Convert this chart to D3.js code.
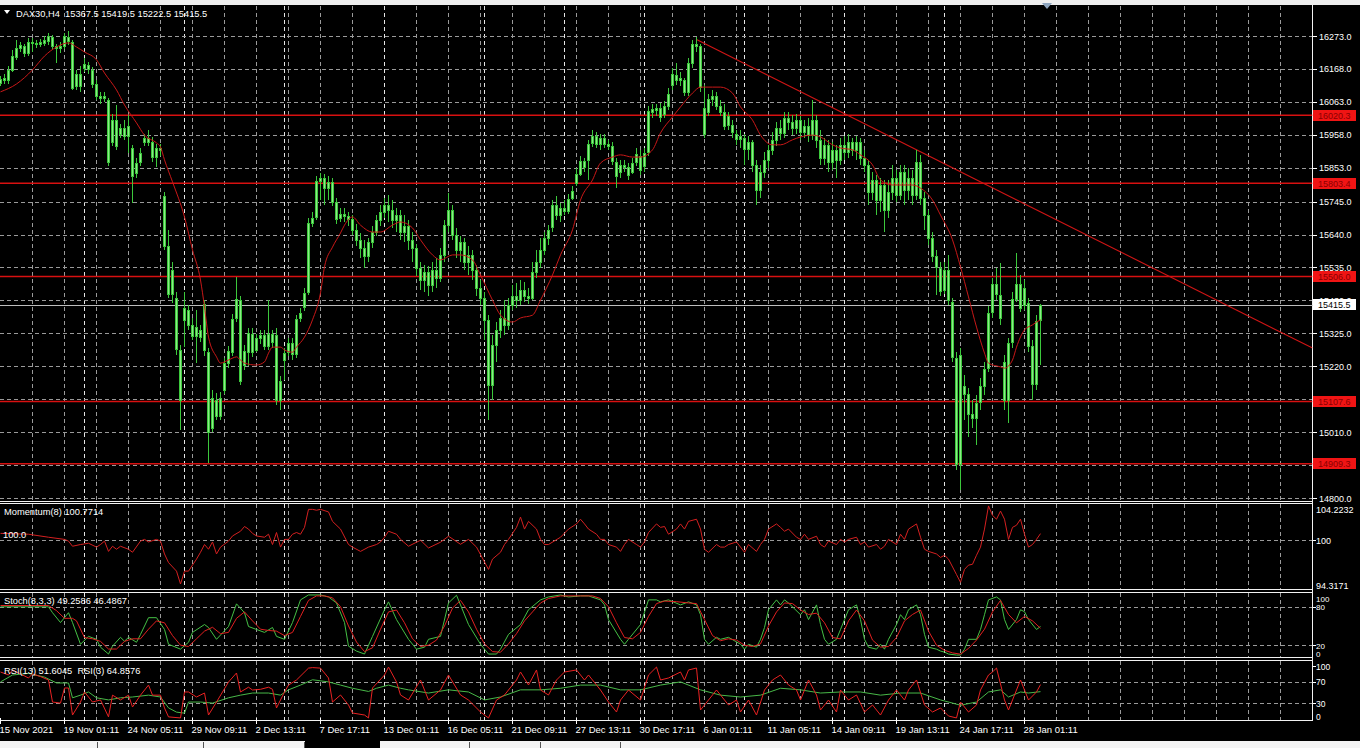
<!DOCTYPE html>
<html><head><meta charset="utf-8">
<script src="https://cdn.jsdelivr.net/npm/d3@7"></script>
<style>
html,body{margin:0;padding:0;background:#000;overflow:hidden}
svg{display:block}
text{font-family:"Liberation Sans",Arial,sans-serif}
</style></head>
<body><svg id="c" width="1360" height="748"></svg>
<script>
// ---------------- DATA ----------------
const symbolTitle = "DAX30,H4  15367.5 15419.5 15222.5 15415.5";
const opens = [16123,16133,16133,16165,16206,16235,16241,16219,16254,16251,
16248,16251,16257,16270,16241,16235,16241,16270,16254,16114,
16152,16171,16181,16165,16120,16082,16075,16069,15935,16005,
15961,15980,15954,15916,15836,15871,15935,15948,15935,15887,
15916,15763,15603,15450,15438,15272,15368,15399,15352,15317,
15336,15272,15265,15023,15112,15061,15144,15230,15265,15374,
15431,15224,15265,15323,15272,15310,15320,15285,15323,15320,
15112,15240,15265,15294,15259,15374,15409,15457,15677,15696,
15811,15820,15788,15808,15744,15693,15706,15699,15690,15655,
15623,15597,15572,15616,15648,15686,15712,15734,15718,15686,
15702,15648,15667,15623,15597,15533,15495,15521,15479,15527,
15501,15575,15670,15718,15639,15591,15616,15552,15575,15527,
15470,15438,15368,15160,15288,15336,15374,15352,15415,15444,
15431,15463,15444,15438,15521,15552,15591,15629,15664,15734,
15702,15725,15715,15757,15804,15833,15875,15878,15932,15954,
15929,15948,15929,15922,15871,15839,15862,15855,15839,15871,
15891,15859,15903,16031,16037,16044,16024,16050,16117,16149,
16133,16133,16095,16187,16248,16241,16044,16031,16072,16082,
16050,16031,15989,15989,15961,15945,15948,15913,15935,15862,
15782,15839,15878,15910,15942,15980,15964,16012,15999,15980,
16005,15967,15986,15957,16005,15942,15884,15926,15871,15910,
15878,15926,15903,15935,15910,15935,15884,15862,15776,15814,
15750,15798,15718,15776,15820,15766,15839,15782,15820,15766,
15871,15757,15702,15629,15572,15533,15463,15527,15425,15246,
14908,15157,15132,15068,15055,15106,15157,15214,15393,15482,
15447,15234,15112,15297,15435,15482,15415,15422,15285,15163,
15367.5];
const highs = [16146,16152,16178,16229,16260,16254,16248,16267,16267,16260,
16264,16273,16283,16276,16248,16254,16283,16289,16260,16165,
16178,16203,16190,16174,16133,16095,16095,16075,16024,16053,
15993,16005,16021,15926,15884,15916,15961,15973,15951,15929,
15929,15776,15655,15552,15457,15288,15457,15415,15374,15399,
15352,15431,15278,15144,15135,15138,15246,15285,15387,15505,
15444,15288,15342,15342,15323,15336,15336,15431,15336,15342,
15189,15278,15310,15310,15383,15406,15470,15693,15712,15827,
15836,15833,15827,15820,15757,15725,15725,15712,15702,15674,
15645,15623,15629,15667,15702,15734,15757,15766,15750,15725,
15718,15702,15686,15648,15610,15552,15543,15540,15552,15565,
15597,15686,15773,15734,15661,15635,15629,15603,15591,15543,
15495,15457,15383,15320,15361,15399,15431,15438,15479,15486,
15495,15489,15470,15552,15591,15629,15648,15670,15750,15763,
15741,15750,15769,15795,15852,15891,15884,15942,15973,15967,
15961,15961,15942,15935,15884,15878,15878,15868,15884,15916,
15910,15916,16050,16056,16056,16060,16066,16107,16171,16187,
16158,16139,16203,16260,16270,16248,16117,16088,16101,16095,
16069,16056,16031,16005,15973,15973,15961,15954,15942,15878,
15862,15903,15926,15967,15999,16005,16031,16031,16021,16024,
16018,16005,16012,16069,16021,15973,15948,15942,15935,15926,
15948,15954,15961,15948,15954,15948,15910,15878,15839,15830,
15820,15814,15814,15862,15846,15862,15862,15852,15846,15910,
15894,15776,15718,15648,15591,15552,15552,15575,15438,15265,
15278,15192,15151,15112,15128,15183,15234,15412,15501,15533,
15549,15256,15310,15457,15581,15511,15495,15438,15304,15383,
15419.5];
const lows = [16114,16120,16120,16158,16197,16222,16206,16209,16222,16235,
16238,16241,16244,16229,16187,16219,16232,16244,16101,16101,
16095,16158,16152,16107,16069,16056,16063,15859,15922,15910,
15948,15942,15900,15741,15820,15859,15922,15922,15871,15855,
15891,15591,15438,15422,15256,15017,15281,15336,15304,15230,
15297,15253,14911,15010,15049,15049,15132,15214,15253,15361,
15160,15208,15221,15250,15265,15291,15272,15272,15278,15096,
15080,15176,15253,15240,15246,15361,15396,15447,15664,15686,
15750,15734,15750,15731,15674,15680,15680,15667,15639,15603,
15565,15533,15552,15597,15635,15667,15693,15680,15661,15648,
15623,15616,15591,15552,15508,15463,15457,15444,15457,15470,
15489,15552,15648,15623,15565,15552,15527,15511,15495,15444,
15415,15304,15049,15112,15234,15310,15320,15336,15399,15406,
15415,15425,15419,15431,15501,15533,15575,15607,15648,15686,
15680,15702,15706,15750,15795,15827,15839,15814,15919,15916,
15910,15916,15910,15862,15788,15820,15839,15814,15833,15859,
15830,15839,15891,16012,16018,15999,16012,16037,16101,16117,
16114,16082,16082,16171,16222,16095,15948,16018,16050,16037,
16018,15973,15973,15948,15926,15916,15862,15878,15839,15734,
15757,15820,15852,15894,15922,15942,15948,15973,15957,15961,
15942,15948,15935,15942,15916,15862,15862,15839,15846,15820,
15862,15878,15884,15891,15878,15862,15839,15734,15750,15702,
15712,15648,15693,15750,15744,15750,15734,15750,15734,15750,
15734,15655,15607,15552,15447,15444,15450,15415,15234,14889,
14825,15049,14994,15023,14969,15080,15128,15202,15374,15431,
15352,15080,15039,15278,15425,15393,15399,15265,15112,15144,
15222.5];
const closes = [16136,16139,16165,16209,16235,16244,16219,16254,16251,16248,
16254,16260,16273,16241,16235,16241,16273,16257,16107,16152,
16114,16184,16168,16120,16082,16075,16082,15871,16005,15922,
15980,15954,15986,15827,15868,15900,15948,15935,15887,15916,
15910,15603,15450,15527,15275,15112,15406,15352,15317,15345,
15313,15419,15010,15119,15061,15119,15230,15269,15371,15435,
15173,15269,15326,15265,15310,15320,15285,15323,15297,15112,
15173,15262,15294,15259,15371,15390,15454,15677,15693,15811,
15820,15788,15808,15744,15690,15706,15699,15690,15655,15623,
15597,15572,15616,15648,15686,15712,15734,15718,15686,15702,
15648,15667,15623,15597,15533,15495,15521,15479,15527,15501,
15575,15670,15718,15639,15591,15616,15552,15575,15527,15470,
15438,15368,15160,15288,15336,15374,15352,15415,15444,15431,
15463,15444,15438,15521,15552,15591,15629,15655,15734,15702,
15725,15715,15753,15779,15833,15875,15855,15929,15954,15929,
15948,15929,15922,15875,15827,15862,15855,15830,15868,15897,
15846,15900,16034,16040,16044,16015,16050,16088,16152,16133,
16139,16095,16187,16248,16241,16111,15961,16072,16082,16050,
16031,15986,16018,15967,15945,15954,15913,15935,15862,15782,
15839,15878,15910,15942,15980,15964,16012,15999,15980,16005,
15967,15986,15957,16005,15942,15884,15926,15871,15910,15878,
15926,15903,15935,15910,15935,15884,15862,15776,15814,15750,
15798,15718,15776,15820,15766,15839,15782,15820,15766,15871,
15757,15702,15629,15572,15537,15460,15527,15431,15250,14908,
15256,15132,15068,15055,15103,15157,15211,15390,15482,15450,
15374,15112,15294,15435,15482,15406,15470,15285,15163,15364,
15415.5];

// moving average: [bar, price]
const maLine = [[0,16095],[4,16120],[8,16165],[11,16209],[14,16238],[17,16251],[19,16238],[21,16222],[24,16197],[26,16155],[29,16101],[31,16053],[34,15996],[36,15957],[39,15932],[40,15919],[41,15878],[43,15808],[46,15696],[48,15591],[50,15495],[51,15409],[52,15313],[54,15250],[55,15230],[56,15234],[58,15246],[59,15250],[60,15240],[61,15230],[64,15224],[66,15234],[67,15262],[68,15281],[70,15281],[71,15272],[73,15265],[74,15281],[76,15313],[78,15368],[80,15454],[81,15537],[83,15600],[85,15645],[86,15670],[88,15696],[90,15670],[93,15648],[95,15648],[98,15670],[100,15680],[103,15661],[105,15623],[108,15575],[110,15559],[113,15575],[115,15575],[118,15559],[120,15511],[123,15431],[125,15383],[128,15361],[130,15374],[133,15383],[135,15431],[138,15511],[140,15575],[143,15655],[145,15750],[148,15814],[150,15868],[153,15887],[155,15894],[158,15887],[160,15887],[163,15910],[165,15964],[168,16015],[170,16047],[173,16091],[175,16110],[178,16110],[180,16110],[183,16091],[185,16047],[188,16005],[190,15957],[193,15926],[195,15926],[198,15942],[200,15951],[203,15957],[205,15951],[208,15926],[210,15916],[213,15910],[215,15894],[218,15862],[220,15814],[223,15798],[225,15798],[228,15798],[230,15788],[233,15750],[235,15702],[238,15623],[240,15537],[242,15441],[244,15345],[246,15262],[247,15230],[250,15218],[251,15214],[253,15240],[254,15281],[256,15336],[258,15352],[259,15361],[260,15368]];

const trendLine = [[174,16262],[328,15278]];
const levels = [16020.3, 15803.4, 15506.0, 15107.6, 14909.3];
const bidPrice = 15415.5;
const priceTicks = [16273,16168,16063,15958,15853,15745,15640,15535,15430,15325,15220,15115,15010,14905,14800];

const timeLabels = ["15 Nov 2021","19 Nov 01:11","24 Nov 05:11","29 Nov 09:11","2 Dec 13:11","7 Dec 17:11","13 Dec 01:11","16 Dec 05:11","21 Dec 09:11","27 Dec 13:11","30 Dec 17:11","6 Jan 01:11","11 Jan 05:11","14 Jan 09:11","19 Jan 13:11","24 Jan 17:11","28 Jan 01:11"];
const timeLabelBars = [0,16,32,48,64,80,96,112,128,144,160,176,192,208,224,240,256];
const weekStartBars = [21,46,71,96,121,141,161,186,211,236];

const momentum = [[0,100.8],[7,100.7],[12,100.35],[16,100.1],[17,99.9],[18,99.3],[20,99.5],[22,99.65],[24,99.2],[25,99.5],[26,99.9],[27,98.7],[28,99.3],[29,98.95],[30,99.3],[32,98.95],[33,98.6],[35,99.9],[36,100.1],[37,99.8],[39,100.1],[40,99.9],[41,98.4],[42,97.4],[44,96.4],[45,94.9],[46,96.4],[47,96.4],[49,97.8],[50,98.6],[51,99.5],[52,98.95],[53,99.8],[54,98.4],[55,99.2],[57,99.9],[58,100.5],[60,101.05],[61,101.6],[62,101.3],[63,100.8],[64,100.5],[66,100.35],[67,100.7],[68,99.5],[69,100.9],[70,99.2],[71,100.1],[72,100.1],[73,100.7],[74,100.9],[75,100.7],[76,101.5],[77,103.6],[78,103.6],[79,103.5],[80,103.6],[82,103.3],[83,102.2],[85,101.3],[87,99.5],[88,99.2],[90,98.7],[92,99.2],[94,99.5],[95,99.8],[96,100.35],[97,101.05],[99,100.7],[100,100.1],[102,99.3],[105,100.0],[107,99.1],[110,99.77],[112,100.47],[115,99.53],[117,100.1],[119,99.2],[122,96.6],[123,97.8],[125,98.6],[126,99.5],[127,100.1],[129,101.5],[130,102.7],[131,101.3],[132,102.2],[134,101.3],[135,100.1],[136,99.5],[137,99.5],[140,100.35],[142,101.3],[144,101.9],[145,102.45],[146,101.9],[147,101.3],[149,100.7],[150,100.1],[151,100.1],[152,99.5],[154,99.2],[155,98.7],[156,99.5],[157,100.1],[159,99.5],[160,99.2],[161,99.8],[162,100.9],[164,101.9],[165,101.5],[166,101.6],[167,100.7],[169,101.3],[170,101.9],[171,101.3],[172,102.2],[174,102.45],[175,101.3],[176,98.95],[177,98.6],[179,99.5],[180,99.2],[181,99.2],[182,99.5],[184,99.8],[185,99.2],[186,98.6],[187,99.5],[189,98.7],[190,99.5],[191,100.1],[192,101.3],[194,101.9],[195,101.5],[196,101.05],[197,101.3],[199,100.35],[200,100.1],[201,100.7],[202,100.1],[204,100.47],[205,99.5],[206,99.2],[207,99.9],[209,99.5],[210,100.1],[211,99.8],[212,100.1],[214,100.35],[215,99.5],[216,99.8],[217,99.2],[219,99.5],[220,98.95],[221,99.3],[222,100.1],[224,99.5],[225,100.7],[226,100.1],[227,101.3],[229,101.9],[230,100.35],[231,98.95],[232,98.7],[234,98.4],[235,98.0],[236,98.25],[237,97.8],[239,96.0],[240,95.1],[241,96.6],[242,97.1],[243,97.2],[244,98.25],[245,99.2],[246,101.3],[247,104.0],[248,102.9],[249,102.45],[250,103.4],[251,102.45],[252,100.1],[253,101.5],[254,101.75],[255,102.45],[256,100.7],[257,99.2],[258,99.5],[259,100.1],[260,100.7714]];

const stochMain = [[0,80],[12,80],[13,70.8],[15,55.4],[17,70.8],[18,55.4],[20,21.5],[22,33.8],[24,29.2],[25,16.9],[27,6.2],[28,18.5],[30,32.3],[31,26.2],[32,32.3],[34,24.6],[35,36.9],[37,63],[39,63],[41,44.6],[42,21.5],[45,13.8],[47,24.6],[48,40],[51,52.3],[52,47.7],[54,29.2],[57,49.2],[59,84.6],[61,70.8],[62,49.2],[64,44.6],[66,40],[68,47.7],[69,33.8],[71,29.2],[73,55.4],[75,90.8],[77,98.5],[80,98.5],[82,95.4],[84,86],[86,55.4],[87,18.5],[89,10.8],[91,6.2],[93,33.8],[96,75.4],[97,87.7],[99,60],[102,29.2],[104,13.8],[106,16.9],[107,29.2],[110,33.8],[112,86],[114,98],[115,83],[117,52.3],[120,21.5],[122,6.2],[124,6.2],[125,13.8],[127,36.9],[130,52.3],[132,75.4],[135,90.8],[137,95.4],[140,98.5],[142,95.4],[145,97],[147,97],[150,90.8],[151,83],[152,60],[155,29.2],[156,21.5],[157,29.2],[160,52.3],[162,90.8],[164,90.8],[165,87.7],[167,90.8],[170,83],[172,87.7],[174,83],[175,67.7],[176,29.2],[177,21.5],[179,32.3],[180,29.2],[182,32.3],[185,21.5],[186,13.8],[187,21.5],[189,16.9],[190,29.2],[191,47.7],[192,75.4],[194,90.8],[195,83],[196,90.8],[197,86],[200,67.7],[201,75.4],[202,60],[204,83],[205,52.3],[206,29.2],[207,21.5],[209,29.2],[210,44.6],[211,60],[212,75.4],[214,83],[215,60],[216,29.2],[217,16.9],[219,13.8],[220,21.5],[221,13.8],[222,29.2],[224,52.3],[225,67.7],[226,60],[227,75.4],[229,83],[230,67.7],[231,36.9],[232,16.9],[234,13.8],[235,10.8],[236,9.2],[237,6.2],[239,4.6],[240,4.6],[241,13.8],[242,29.2],[244,29.2],[245,44.6],[246,67.7],[247,90.8],[249,95.4],[250,90.8],[251,60],[252,44.6],[254,60],[255,75.4],[256,72.3],[257,60],[259,44.6],[260,49.2586]];

const stochSignal = [[0,82],[12,82],[14,74],[16,62],[18,62],[19,58],[21,32],[23,30],[25,26],[27,14],[29,14],[31,26],[33,30],[35,30],[37,45],[39,58],[41,55],[43,35],[45,20],[47,18],[49,30],[51,42],[53,48],[55,38],[57,40],[59,62],[61,72],[63,58],[65,45],[67,43],[69,42],[71,35],[73,40],[75,65],[77,90],[79,97],[81,97],[83,94],[85,80],[87,50],[89,25],[91,10],[93,16],[95,45],[97,72],[99,75],[101,55],[103,30],[105,18],[107,20],[109,28],[111,50],[113,78],[115,90],[117,72],[119,45],[121,22],[123,10],[125,9],[127,22],[129,38],[131,58],[133,72],[135,86],[137,93],[140,97],[145,97],[148,97],[150,93],[152,80],[154,55],[156,32],[158,30],[160,40],[162,65],[164,85],[166,89],[169,88],[172,86],[174,85],[176,60],[178,35],[180,27],[182,30],[184,28],[186,20],[188,18],[190,22],[192,50],[194,72],[196,86],[198,85],[200,75],[202,68],[204,70],[206,55],[208,32],[210,30],[212,58],[214,75],[216,58],[218,28],[220,17],[222,18],[224,32],[226,58],[228,68],[230,75],[232,42],[234,20],[236,12],[238,8],[240,6],[242,15],[244,28],[246,45],[248,72],[250,90],[252,68],[254,55],[256,65],[258,58],[260,46.4867]];

const rsi13 = [[0,70],[3,83],[7,86],[11,79],[14,68],[17,68],[18,40],[20,45],[22,51],[24,40],[27,36],[30,40],[33,41.5],[37,45],[40,41.5],[42,21],[44,13],[46,11],[47,32],[50,32],[53,30],[57,40],[60,45],[63,49],[67,49],[70,45],[72,55],[75,64],[78,74],[82,70],[85,64],[88,58],[92,52],[94,58],[97,64],[100,58],[102,55],[107,49],[112,55],[117,51],[121,36],[125,41.5],[130,55],[135,55],[140,58],[145,64],[150,64],[155,55],[160,55],[165,64],[170,70],[175,55],[180,45],[185,41.5],[190,45],[195,58],[200,55],[205,49],[210,51],[215,51],[220,45],[225,49],[230,49],[235,36],[240,26],[244,32],[247,51],[250,55],[252,41.5],[255,51],[257,49],[260,51.6045]];

const rsi3 = [[0,88.7],[2,83],[3,92.5],[5,85],[7,77.4],[8,85],[10,80],[12,73.6],[13,32],[15,30],[16,58.5],[17,58.5],[18,7.5],[20,32],[21,51],[23,32],[25,36],[27,4],[28,45],[30,36],[32,45],[33,22.6],[35,45],[37,64],[38,45],[40,45],[41,20.8],[42,4],[45,2],[46,51],[47,51],[49,41.5],[51,49],[52,7.5],[54,32],[57,69.8],[59,86.8],[60,51],[62,60],[63,54.7],[65,56],[67,60],[68,56],[69,20.8],[71,51],[72,64],[74,73.6],[77,96],[78,97],[80,96],[82,77.4],[83,32],[85,45.3],[87,26.4],[88,11.3],[91,7.5],[92,2],[93,58.5],[96,83],[97,98],[99,69.8],[100,45.3],[102,35.8],[105,73.6],[107,35.8],[110,54.7],[112,83],[115,45.3],[117,35.8],[120,13.2],[122,1.9],[124,35.8],[126,45.3],[129,73.6],[130,88.7],[132,64.2],[134,92.5],[135,54.7],[137,45.3],[139,73.6],[141,88.7],[144,92.5],[146,73.6],[147,83],[150,54.7],[152,32],[154,13.2],[155,35.8],[157,54.7],[160,35.8],[162,83],[164,98],[165,73.6],[167,77.4],[170,88.7],[171,73.6],[172,92.5],[174,96.2],[175,17],[177,35.8],[179,54.7],[180,45.3],[182,26.4],[184,35.8],[185,13.2],[187,35.8],[189,7.5],[191,54.7],[193,73.6],[195,83],[197,64.2],[199,54.7],[200,35.8],[202,73.6],[204,45.3],[205,17],[207,35.8],[209,13.2],[210,54.7],[212,35.8],[214,45.3],[216,13.2],[218,26.4],[220,7.5],[222,35.8],[224,54.7],[226,35.8],[227,54.7],[229,73.6],[231,26.4],[233,13.2],[235,20.8],[237,5.7],[239,2],[240,32],[242,13.2],[244,26.4],[245,54.7],[247,83],[248,88.7],[249,96.2],[251,35.8],[252,17],[254,54.7],[255,73.6],[256,54.7],[257,35.8],[259,51],[260,64.8576]];

const momLabel = "Momentum(8) 100.7714";
const stochLabel = "Stoch(8,3,3) 49.2586 46.4867";
const rsiLabel = "RSI(13) 51.6045  RSI(3) 64.8576";
const momAxis = [[104.2232,"104.2232"],[100,"100"],[94.3171,"94.3171"]];
const stochAxis = [[100,"100"],[80,"80"],[20,"20"],[0,"0"]];
const rsiAxis = [[100,"100"],[70,"70"],[30,"30"],[0,"0"]];

// ---------------- DRAW ----------------
const W = 1360, H = 748, AX = 1312.5;
const svg = d3.select("#c");
const GRID = "#9a9a9a", SEP = "#e6e6e6", FG = "#ffffff", CANDLE = "#3cc83c", CANDLE_FILL = "#8eea88";

svg.append("rect").attr("width", W).attr("height", H).attr("fill", "#000");
svg.append("rect").attr("width", W).attr("height", 5).attr("fill", "#efefef");

const x = d3.scaleLinear().domain([0, 260]).range([0.5, 1040.5]);
const y = d3.scaleLinear().domain([14800, 16273]).range([498, 36]);
const yMom = d3.scaleLinear().domain([94.3171, 104.2232]).range([589, 504]);
const ySto = d3.scaleLinear().domain([0, 100]).range([658, 594]);
const yRsi = d3.scaleLinear().domain([0, 100]).range([719, 666]);

const panels = [
  {id:"main", top:5.5, bot:501.5},
  {id:"mom", top:503.5, bot:589.5},
  {id:"sto", top:592.5, bot:657.5},
  {id:"rsi", top:660.5, bot:720.5}
];
const defs = svg.append("defs");
panels.forEach(p => {
  defs.append("clipPath").attr("id", "clip-" + p.id)
    .append("rect").attr("x", 0).attr("y", p.top + 0.5).attr("width", AX).attr("height", p.bot - p.top - 1);
});

const gridBars = d3.range(8, 328, 8);
const gGrid = svg.append("g").attr("shape-rendering", "crispEdges");
panels.forEach(p => {
  gGrid.selectAll(null).data(gridBars).join("line")
    .attr("x1", d => x(d)).attr("x2", d => x(d))
    .attr("y1", p.top).attr("y2", p.bot)
    .attr("stroke", GRID).attr("stroke-dasharray", "4,3");
  gGrid.selectAll(null).data(weekStartBars).join("line")
    .attr("x1", d => x(d)).attr("x2", d => x(d))
    .attr("y1", p.top).attr("y2", p.bot)
    .attr("stroke", SEP).attr("stroke-dasharray", "4,3");
});
gGrid.selectAll(null).data(priceTicks).join("line")
  .attr("x1", 0).attr("x2", AX).attr("y1", d => Math.round(y(d)) + 0.5).attr("y2", d => Math.round(y(d)) + 0.5)
  .attr("stroke", GRID).attr("stroke-dasharray", "4,3");
[[yMom,[100]],[ySto,[80,20]],[yRsi,[70,30]]].forEach(([sc, lv]) => {
  gGrid.selectAll(null).data(lv).join("line")
    .attr("x1", 0).attr("x2", AX).attr("y1", d => Math.round(sc(d)) + 0.5).attr("y2", d => Math.round(sc(d)) + 0.5)
    .attr("stroke", GRID).attr("stroke-dasharray", "4,3");
});

const gFrame = svg.append("g").attr("shape-rendering", "crispEdges").attr("stroke", "#f2f2f2");
panels.forEach((p, i) => {
  if (i > 0) gFrame.append("line").attr("x1", 0).attr("x2", AX).attr("y1", p.top).attr("y2", p.top);
  gFrame.append("line").attr("x1", 0).attr("x2", AX).attr("y1", p.bot).attr("y2", p.bot);
});
gFrame.append("line").attr("x1", AX).attr("x2", AX).attr("y1", 5).attr("y2", 720.5);

const gMain = svg.append("g").attr("clip-path", "url(#clip-main)");
gMain.append("line").attr("x1", 0).attr("x2", AX)
  .attr("y1", Math.round(y(bidPrice)) + 0.5).attr("y2", Math.round(y(bidPrice)) + 0.5)
  .attr("stroke", "#bdbdbd").attr("shape-rendering", "crispEdges");
gMain.selectAll(null).data(levels).join("line")
  .attr("x1", 0).attr("x2", AX).attr("y1", d => y(d)).attr("y2", d => y(d))
  .attr("stroke", "#d81010").attr("stroke-width", 1.4);
gMain.append("line")
  .attr("x1", x(trendLine[0][0])).attr("y1", y(trendLine[0][1]))
  .attr("x2", x(trendLine[1][0])).attr("y2", y(trendLine[1][1]))
  .attr("stroke", "#d01515").attr("stroke-width", 1.1);

const idx = d3.range(closes.length);
gMain.selectAll(null).data(idx).join("line")
  .attr("x1", i => x(i)).attr("x2", i => x(i))
  .attr("y1", i => y(highs[i])).attr("y2", i => y(lows[i]))
  .attr("stroke", CANDLE).attr("shape-rendering", "crispEdges");
gMain.selectAll(null).data(idx).join("rect")
  .attr("x", i => x(i) - 1)
  .attr("y", i => Math.round(y(Math.max(opens[i], closes[i]))) + 0.5)
  .attr("width", 2)
  .attr("height", i => Math.max(1, Math.round(Math.abs(y(opens[i]) - y(closes[i])))))
  .attr("fill", CANDLE_FILL).attr("stroke", CANDLE).attr("stroke-width", 1);

gMain.append("path").datum(maLine)
  .attr("d", d3.line().x(d => x(d[0])).y(d => y(d[1])).curve(d3.curveMonotoneX))
  .attr("fill", "none").attr("stroke", "#c81818").attr("stroke-width", 1);

function drawLine(panelId, data, sc, color) {
  svg.append("g").attr("clip-path", "url(#clip-" + panelId + ")")
    .append("path").datum(data)
    .attr("d", d3.line().x(d => x(d[0])).y(d => sc(d[1])))
    .attr("fill", "none").attr("stroke", color).attr("stroke-width", 1);
}
drawLine("mom", momentum, yMom, "#d42020");
drawLine("sto", stochMain, ySto, "#45c045");
drawLine("sto", stochSignal, ySto, "#e02020");
drawLine("rsi", rsi13, yRsi, "#48b848");
drawLine("rsi", rsi3, yRsi, "#e82222");

// right axis - main
const gAx = svg.append("g").attr("font-size", "9px").attr("fill", FG);
gAx.selectAll(null).data(priceTicks).join("line")
  .attr("x1", AX).attr("x2", AX + 4).attr("y1", d => Math.round(y(d)) + 0.5).attr("y2", d => Math.round(y(d)) + 0.5)
  .attr("stroke", FG).attr("shape-rendering", "crispEdges");
gAx.selectAll(null).data(priceTicks).join("text")
  .attr("x", 1319).attr("y", d => y(d) + 3.5).text(d => d.toFixed(1));

const boxW = 43, boxH = 11;
gAx.selectAll(null).data(levels).join("rect")
  .attr("x", AX + 0.5).attr("y", d => Math.round(y(d) - boxH / 2)).attr("width", boxW).attr("height", boxH)
  .attr("fill", "#f01414");
gAx.selectAll(null).data(levels).join("text")
  .attr("x", 1318).attr("y", d => y(d) + 3.5).attr("fill", "#8a0000").text(d => d.toFixed(1));
gAx.append("rect").attr("x", AX + 0.5).attr("y", Math.round(y(bidPrice) - boxH / 2))
  .attr("width", boxW).attr("height", boxH).attr("fill", "#ffffff");
gAx.append("text").attr("x", 1318).attr("y", y(bidPrice) + 3.5).attr("fill", "#000").text(bidPrice.toFixed(1));

// right axis - indicators
function panelAxis(items, sc, top, bot, font) {
  items.forEach(([v, t]) => {
    let yy = sc(v) + 3.5;
    yy = Math.max(top + 9, Math.min(bot - 1, yy));
    gAx.append("text").attr("x", 1316).attr("y", yy).attr("font-size", font || "9px").text(t);
    if (sc(v) > top + 4 && sc(v) < bot - 4)
      gAx.append("line").attr("x1", AX).attr("x2", AX + 3).attr("y1", Math.round(sc(v)) + 0.5).attr("y2", Math.round(sc(v)) + 0.5)
        .attr("stroke", FG).attr("shape-rendering", "crispEdges");
  });
}
panelAxis(momAxis, yMom, 503.5, 589.5);
panelAxis(stochAxis, ySto, 592.5, 657.5, "8px");
panelAxis(rsiAxis, yRsi, 660.5, 720.5, "8.5px");

// time axis
const gT = svg.append("g").attr("font-size", "9.5px").attr("fill", FG);
gT.selectAll(null).data(timeLabelBars).join("line")
  .attr("x1", d => x(d)).attr("x2", d => x(d)).attr("y1", 718).attr("y2", 724)
  .attr("stroke", FG).attr("shape-rendering", "crispEdges");
gT.selectAll(null).data(timeLabels).join("text")
  .attr("x", (d, i) => x(timeLabelBars[i]) - 1).attr("y", 733).text(d => d);

// labels
const gL = svg.append("g").attr("font-size", "9.3px").attr("fill", FG);
gL.append("path").attr("d", "M4,10 L10,10 L7,14 Z").attr("fill", FG);
gL.append("text").attr("x", 16).attr("y", 17).attr("xml:space", "preserve").text(symbolTitle);
gL.append("text").attr("x", 4).attr("y", 515).text(momLabel);
gL.append("text").attr("x", 3).attr("y", 538).text("100.0");
gL.append("text").attr("x", 4).attr("y", 604).text(stochLabel);
gL.append("text").attr("x", 4).attr("y", 674).attr("xml:space", "preserve").text(rsiLabel);

svg.append("path").attr("d", "M1042,3 L1052,3 L1047,9 Z").attr("fill", "#8fa6bf");

svg.append("rect").attr("x", 0).attr("y", 741).attr("width", 305).attr("height", 7).attr("fill", "#f4f4f4");
svg.append("rect").attr("x", 380).attr("y", 741).attr("width", 980).attr("height", 7).attr("fill", "#f4f4f4");
svg.append("g").attr("stroke", "#555").attr("shape-rendering", "crispEdges")
  .selectAll(null).data([97, 203, 304, 469, 540, 620]).join("line")
  .attr("x1", d => d + 0.5).attr("x2", d => d + 0.5).attr("y1", 742).attr("y2", 748);
</script></body></html>
